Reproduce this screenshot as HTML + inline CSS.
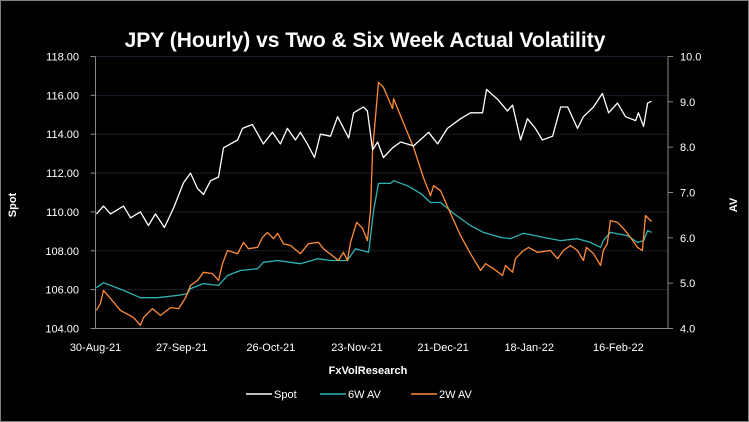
<!DOCTYPE html>
<html><head><meta charset="utf-8"><style>
html,body{margin:0;padding:0;background:#000;}
svg{display:block;font-family:"Liberation Sans",sans-serif;}
</style></head><body>
<svg id="chart" width="749" height="422" viewBox="0 0 749 422">
<rect x="0.5" y="0.5" width="748" height="421" fill="#000" stroke="#7f7f7f"/>
<text x="365" y="47" text-anchor="middle" fill="#fff" font-size="21" font-weight="bold">JPY (Hourly) vs Two &amp; Six Week Actual Volatility</text>
<g id="grid"></g><g id="axes"></g><g id="series"></g>
<text x="368" y="374" text-anchor="middle" fill="#fff" font-size="11" font-weight="bold">FxVolResearch</text>
<text transform="translate(16,205) rotate(-90)" text-anchor="middle" fill="#fff" font-size="11" font-weight="bold">Spot</text>
<text transform="translate(737,205) rotate(-90)" text-anchor="middle" fill="#fff" font-size="11" font-weight="bold">AV</text>
<g>
<g><line x1="246" y1="394" x2="272" y2="394" stroke="#fff" stroke-width="1.5"/><text x="274" y="398" fill="#fff" font-size="11">Spot</text></g>
<g><line x1="320" y1="394" x2="346" y2="394" stroke="#2fb3b3" stroke-width="1.5"/><text x="348" y="398" fill="#fff" font-size="11">6W AV</text></g>
<g><line x1="411" y1="394" x2="437" y2="394" stroke="#ff8c3a" stroke-width="1.5"/><text x="439" y="398" fill="#fff" font-size="11">2W AV</text></g>
</g>
</svg>
<script>
const xTickLabels=["30-Aug-21","27-Sep-21","26-Oct-21","23-Nov-21","21-Dec-21","18-Jan-22","16-Feb-22"];
const xTickDays=[0,28,57,85,113,141,170];
const leftTicks=[104,106,108,110,112,114,116,118];
const rightTicks=[4,5,6,7,8,9,10];
const spotDays=[0.3,2.6,4.9,9.1,11.4,14.6,17.2,19.5,22.4,25.4,28.6,30.9,33.2,35.1,37.4,40,41.6,43.9,46.2,47.8,51,54.6,57.5,60.1,62.4,65,66.6,68.9,71.2,73.1,76.4,78.7,82.3,83.9,87.1,88.4,90.1,91.7,93.6,96.6,99.2,103.4,108.3,111.2,114.4,118.7,121.9,125.8,127.1,130.7,133.9,135.6,138.2,140.4,143,145.3,148.6,151.2,153.5,156.7,158.6,161.9,164.8,166.8,169.7,172.3,175.6,176.5,178.2,179.5,180.8];
const spotVals=[109.9,110.3,109.9,110.3,109.7,110.0,109.3,109.9,109.2,110.2,111.5,112.0,111.2,110.9,111.6,111.8,113.3,113.5,113.7,114.3,114.5,113.5,114.1,113.5,114.3,113.7,114.1,113.5,112.8,114.0,113.9,114.9,113.8,115.1,115.4,115.2,113.2,113.6,112.8,113.3,113.6,113.4,114.1,113.5,114.3,114.8,115.1,115.1,116.3,115.8,115.2,115.5,113.7,114.8,114.3,113.7,113.9,115.4,115.4,114.3,114.9,115.4,116.1,115.1,115.6,114.9,114.7,115.1,114.4,115.6,115.7];
const av6Days=[0.3,2.6,9.1,14.6,20.2,26.7,29.9,30.9,35.1,40,42.9,47.1,52.7,54.6,59.2,63.4,66.6,72.2,76.4,81.9,84.5,88.8,90.4,92,95.9,96.9,101.4,105.7,108.9,112.2,116.4,121.9,126.1,131.7,134.9,139.1,145.6,151.2,156.7,160.9,164.2,165.1,167.4,172.9,176.2,178.2,179.5,180.8];
const av6Vals=[4.90,5.01,4.84,4.68,4.68,4.73,4.77,4.88,4.99,4.95,5.17,5.28,5.32,5.46,5.50,5.46,5.43,5.54,5.50,5.50,5.76,5.68,6.60,7.20,7.20,7.26,7.15,6.98,6.78,6.78,6.54,6.27,6.12,6.01,5.98,6.10,6.01,5.94,5.98,5.90,5.79,5.94,6.12,6.05,5.90,5.94,6.16,6.12];
const av2Days=[0.3,1.6,2.6,4.9,8.1,12.4,14.6,15.6,18.5,21.1,24.4,27,29.3,30.9,33.2,35.1,38,40,41.3,42.9,46.2,48.1,49.7,52.7,54.3,55.9,57.9,59.2,61.1,63.4,66.6,69.2,72.5,74.1,79,80.6,81.9,82.9,84.9,86.8,88.4,89.4,90.1,92,93.6,96.6,96.9,100.1,103.4,106.6,108.9,109.9,112.2,115.4,118.7,121.9,125.2,126.8,129.4,132.3,133.3,135.6,136.5,139.1,140.8,143.7,147.9,150.2,152.1,154.4,156.7,158.6,159.6,161.9,164.2,165.1,166.4,167.4,169.7,171.6,173.9,176.2,177.8,178.8,180.8];
const av2Vals=[4.40,4.55,4.84,4.66,4.40,4.24,4.07,4.24,4.44,4.29,4.46,4.44,4.68,4.95,5.06,5.24,5.21,5.06,5.43,5.72,5.65,5.90,5.76,5.79,6.01,6.12,5.98,6.10,5.87,5.83,5.65,5.87,5.90,5.76,5.50,5.68,5.50,5.90,6.34,6.21,5.94,6.60,7.93,9.43,9.32,8.85,9.07,8.54,7.99,7.33,6.93,7.15,7.04,6.54,6.05,5.65,5.28,5.43,5.32,5.17,5.39,5.24,5.54,5.72,5.79,5.68,5.72,5.54,5.72,5.83,5.72,5.50,5.79,5.65,5.39,5.72,5.87,6.38,6.34,6.21,6.01,5.79,5.72,6.49,6.36];

const NS="http://www.w3.org/2000/svg";
const X0=95.5,X1=668,PX=3.076,Y0=56.5,Y1=328.5;
const xs=d=>X0+d*PX;
const yL=v=>Y1-(v-104)/(118-104)*(Y1-Y0);
const yR=v=>Y1-(v-4)/(10-4)*(Y1-Y0);
function mk(tag,attrs,parent){const e=document.createElementNS(NS,tag);for(const k in attrs)e.setAttribute(k,attrs[k]);parent.appendChild(e);return e;}
const grid=document.getElementById('grid'),axes=document.getElementById('axes'),series=document.getElementById('series');
leftTicks.forEach(v=>{
  const y=yL(v);
  if(v>104){const g=mk('line',{x1:X0,x2:X1,y1:y,y2:y,stroke:'#1c1c2c','stroke-width':1},grid);
  
  }
  const tm=mk('line',{x1:X0-5,x2:X0,y1:y,y2:y,stroke:'#888'},axes);
  
  
  const t=mk('text',{x:79,y:y+4,'text-anchor':'end',fill:'#fff','font-size':11},axes);
  t.textContent=v.toFixed(2);
  
  
});
rightTicks.forEach(v=>{
  const y=yR(v);
  const tm=mk('line',{x1:X1,x2:X1+5,y1:y,y2:y,stroke:'#888'},axes);
  
  
  const t=mk('text',{x:680,y:y+4,fill:'#fff','font-size':11},axes);
  t.textContent=v.toFixed(1);
  
  
});
const la=mk('line',{x1:X0,x2:X0,y1:Y0,y2:Y1,stroke:'#888'},axes);


const ra=mk('line',{x1:X1,x2:X1,y1:Y0,y2:Y1,stroke:'#888'},axes);


const xa=mk('line',{x1:X0,x2:X1,y1:Y1,y2:Y1,stroke:'#888'},axes);


xTickLabels.forEach((s,i)=>{
  const t=mk('text',{x:xs(xTickDays[i]),y:351,'text-anchor':'middle',fill:'#fff','font-size':11},axes);
  t.textContent=s;
  
  
});
function line(days,vals,yf,color,name){
  const d=days.map((dd,i)=>(i?'L':'M')+xs(dd).toFixed(1)+','+yf(vals[i]).toFixed(1)).join('');
  const p=mk('path',{d:d,fill:'none',stroke:color,'stroke-width':1.3,'stroke-linejoin':'round'},series);
  
  
}
line(av6Days,av6Vals,yR,'#2fb3b3','series-6w-av');
line(av2Days,av2Vals,yR,'#ff8c3a','series-2w-av');
line(spotDays,spotVals,yL,'#ffffff','series-spot');
</script>
</body></html>
